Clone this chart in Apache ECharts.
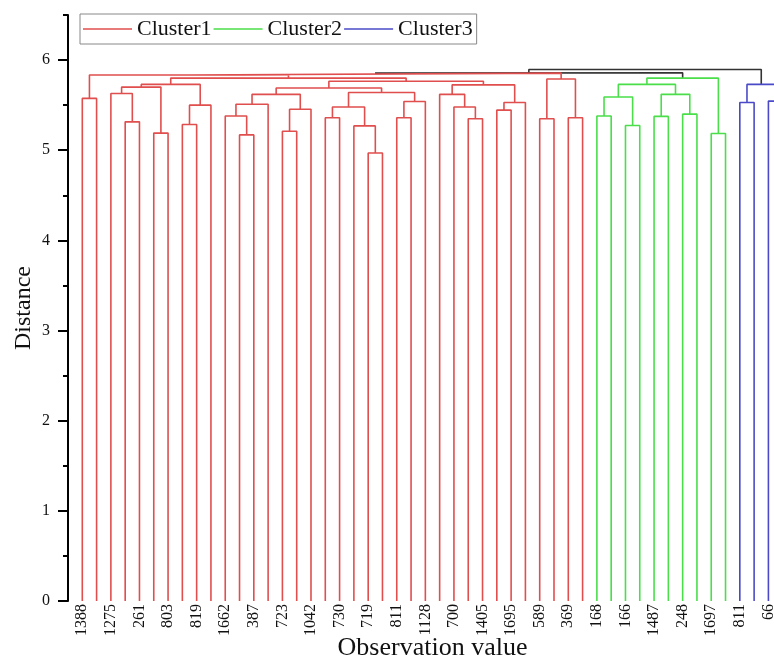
<!DOCTYPE html>
<html>
<head>
<meta charset="utf-8">
<script src="https://cdn.jsdelivr.net/npm/echarts@6/dist/echarts.min.js"></script>
<style>
html, body { margin: 0; padding: 0; background: #fff; }
#main { width: 774px; height: 659px; }
</style>
</head>
<body>
<div id="main"></div>
<script>
// leaves sit at positions 1..50, only every other one is labelled
var leafCount = 50;
var tickLabels = ['1388', '1275', '261', '803', '819', '1662', '387', '723', '1042', '730',
    '719', '811', '1128', '700', '1405', '1695', '589', '369', '168', '166',
    '1487', '248', '1697', '811', '66'];

var clusterNames = ['Cluster1', 'Cluster2', 'Cluster3'];
var clusterLastLeaf = [36, 46, 50];

// linkage: ids 1..50 are leaves, merge k (1-based) gets id 50 + k
var mergeA = [1, 4, 3, 6, 53, 8, 56, 55, 12, 11,
    60, 15, 62, 61, 18, 21, 20, 65, 23, 69,
    68, 64, 28, 27, 26, 30, 76, 75, 72, 58,
    51, 33, 35, 82, 81, 37, 39, 86, 41, 43,
    89, 88, 45, 92, 47, 49, 95, 85, 98];
var mergeB = [2, 5, 52, 7, 54, 9, 10, 57, 13, 59,
    14, 16, 17, 63, 19, 22, 66, 67, 24, 25,
    70, 71, 29, 73, 74, 31, 32, 77, 78, 79,
    80, 34, 36, 83, 84, 38, 40, 87, 42, 44,
    90, 91, 46, 93, 48, 50, 96, 94, 97];
var mergeHeight = [5.575, 5.315, 5.63, 5.19, 5.70, 5.285, 5.50, 5.73, 5.17, 5.38,
    5.51, 5.21, 5.455, 5.62, 5.36, 4.97, 5.27, 5.48, 5.36, 5.54,
    5.64, 5.69, 5.35, 5.48, 5.62, 5.445, 5.53, 5.725, 5.765, 5.80,
    5.835, 5.35, 5.36, 5.79, 5.855, 5.38, 5.275, 5.59, 5.375, 5.40,
    5.62, 5.73, 5.185, 5.80, 5.53, 5.545, 5.73, 5.86, 5.895];

var colors = ['#e04e4e', '#4ade4a', '#4a4ac8'];
var linkColor = '#333';
var serif = 'Liberation Serif, Times New Roman, serif';

function clusterOf(leaf) {
    for (var c = 0; c < clusterLastLeaf.length; c++) {
        if (leaf <= clusterLastLeaf[c]) return c;
    }
}

var nodeX = {}, nodeH = {}, nodeC = {};
for (var i = 1; i <= leafCount; i++) {
    nodeX[i] = i;
    nodeH[i] = 0;
    nodeC[i] = clusterOf(i);
}

// one U shape per merge, grouped by colour (index 3 = above the cut)
var groups = [[], [], [], []];
mergeA.forEach(function (a, k) {
    var b = mergeB[k], h = mergeHeight[k], id = leafCount + k + 1;
    nodeX[id] = (nodeX[a] + nodeX[b]) / 2;
    nodeH[id] = h;
    nodeC[id] = nodeC[a] === nodeC[b] ? nodeC[a] : 3;
    groups[nodeC[id]].push(
        [nodeX[a], nodeH[a]], [nodeX[a], h], [nodeX[b], h], [nodeX[b], nodeH[b]], ['-', '-']
    );
});

var series = [{
    name: 'link',
    type: 'line',
    data: groups[3],
    symbol: 'none',
    connectNulls: false,
    lineStyle: { color: linkColor, width: 1.6 },
    itemStyle: { color: linkColor },
    z: 1,
    silent: true
}];
clusterNames.forEach(function (name, c) {
    series.push({
        name: name,
        type: 'line',
        data: groups[c],
        symbol: 'none',
        connectNulls: false,
        lineStyle: { color: colors[c], width: 1.6 },
        itemStyle: { color: colors[c] },
        z: 2
    });
});

var tickPos = tickLabels.map(function (t, i) { return 2 * i + 1; });
var yMajor = [0, 1, 2, 3, 4, 5, 6];

var myChart = echarts.init(document.getElementById('main'));
var option = {
    animation: false,
    backgroundColor: '#fff',
    legend: {
        data: clusterNames,
        left: 80,
        top: 14,
        icon: 'rect',
        itemWidth: 49,
        itemHeight: 1.5,
        itemGap: 2,
        padding: [4, 4, 4, 3],
        borderColor: '#888',
        borderWidth: 1,
        textStyle: { fontFamily: serif, fontSize: 22, color: '#111' }
    },
    grid: { left: 68, top: 15, width: 729, bottom: 58, containLabel: false, outerBoundsMode: 'none' },
    xAxis: {
        type: 'value',
        min: 0,
        max: leafCount + 1,
        axisLine: { show: false },
        axisTick: { show: false },
        splitLine: { show: false },
        axisLabel: {
            customValues: tickPos,
            rotate: 90,
            margin: 3,
            fontFamily: serif,
            fontSize: 16,
            color: '#111',
            formatter: function (v) { return tickLabels[(v - 1) / 2]; }
        },
        name: 'Observation value',
        nameLocation: 'middle',
        nameGap: 34,
        nameMoveOverlap: false,
        nameTextStyle: { fontFamily: serif, fontSize: 26, color: '#111' }
    },
    yAxis: [{
        type: 'value',
        position: 'left',
        min: 0,
        max: 6.5,
        interval: 0.5,
        axisLine: { show: true, lineStyle: { color: '#000', width: 2 } },
        axisTick: { show: true, length: 5, lineStyle: { color: '#000', width: 2 } },
        axisLabel: { show: false },
        splitLine: { show: false }
    }, {
        type: 'value',
        position: 'left',
        min: 0,
        max: 6.5,
        interval: 1,
        axisLine: { show: false },
        axisTick: { show: true, length: 10, customValues: yMajor, lineStyle: { color: '#000', width: 2 } },
        axisLabel: { customValues: yMajor, margin: 18, fontFamily: serif, fontSize: 16, color: '#111' },
        splitLine: { show: false },
        name: 'Distance',
        nameLocation: 'middle',
        nameGap: 32,
        nameMoveOverlap: false,
        nameTextStyle: { fontFamily: serif, fontSize: 24, color: '#111' }
    }],
    series: series
};

myChart.setOption(option);
</script>
</body>
</html>
